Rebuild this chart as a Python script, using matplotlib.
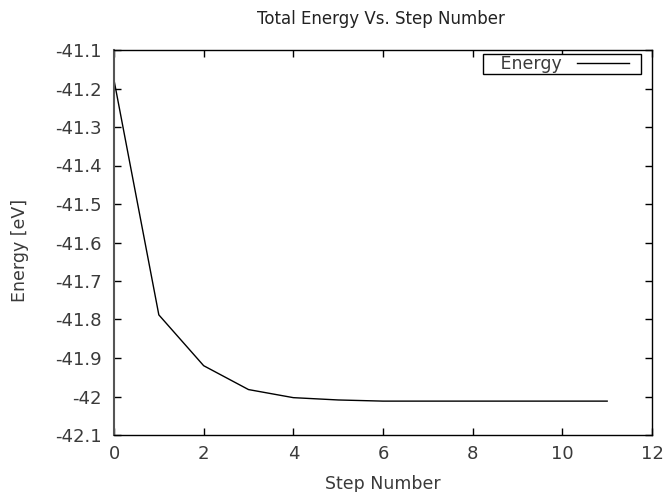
#!/usr/bin/env python3
"""Total energy vs. step number, gnuplot-style line chart."""

import matplotlib
matplotlib.use("Agg")
import matplotlib.pyplot as plt
from matplotlib.legend_handler import HandlerLine2D

# ---- Data ----
STEPS = [0, 1, 2, 3, 4, 5, 6, 7, 8, 9, 10, 11]
ENERGY = [-41.178, -41.788, -41.920, -41.982, -42.003, -42.009,
          -42.012, -42.012, -42.012, -42.012, -42.012, -42.012]

X_TICKS = [0, 2, 4, 6, 8, 10, 12]
Y_TICKS = [-42.1, -42.0, -41.9, -41.8, -41.7, -41.6, -41.5, -41.4, -41.3, -41.2, -41.1]
Y_TICK_LABELS = ["-42.1", "-42", "-41.9", "-41.8", "-41.7", "-41.6",
                 "-41.5", "-41.4", "-41.3", "-41.2", "-41.1"]

TEXT_COLOR = "#3a3a3a"


class ShortLineHandler(HandlerLine2D):
    """Legend sample line that leaves a gap before the right edge of the box."""

    def __init__(self, right_gap, **kw):
        super().__init__(**kw)
        self.right_gap = right_gap

    def create_artists(self, legend, orig_handle, xdescent, ydescent,
                       width, height, fontsize, trans):
        return super().create_artists(legend, orig_handle, xdescent, ydescent,
                                      width - self.right_gap * fontsize,
                                      height, fontsize, trans)


def main() -> None:
    plt.rcParams["font.family"] = "DejaVu Sans"
    fig = plt.figure(figsize=(6.63, 4.92), dpi=100)
    ax = fig.add_axes([114 / 663, 1 - 435 / 492, (652 - 114) / 663, (435 - 50) / 492])

    line, = ax.plot(STEPS, ENERGY, color="black", linewidth=1.0, label="   Energy")

    ax.set_xlim(0, 12)
    ax.set_ylim(-42.1, -41.1)
    ax.set_xticks(X_TICKS)
    ax.set_yticks(Y_TICKS)
    ax.set_yticklabels(Y_TICK_LABELS)
    ax.tick_params(direction="in", top=True, right=True, length=5, width=1,
                   labelsize=13, labelcolor=TEXT_COLOR)
    ax.tick_params(axis="y", pad=9)
    ax.tick_params(axis="x", pad=7)
    for side in ax.spines.values():
        side.set_linewidth(1.0)
        side.set_color("black")
    ax.spines["left"].set_color("#555555")
    ax.spines["left"].set_linewidth(1.5)

    ax.set_xlabel("Step Number", fontsize=12.5, color=TEXT_COLOR)
    ax.xaxis.set_label_coords(0.5, -0.103)
    ax.set_ylabel("Energy [eV]", fontsize=12.5, color=TEXT_COLOR)
    ax.yaxis.set_label_coords(-0.158, 0.48)
    fig.text(381 / 663, 1 - 19 / 492, "Total Energy Vs. Step Number",
             ha="center", va="center", fontsize=12, color="#222222")

    leg = ax.legend(loc="upper right", bbox_to_anchor=(0.9796, 0.9896),
                    markerfirst=False, fancybox=False, framealpha=1,
                    edgecolor="black", fontsize=12.5, handlelength=3.62,
                    handletextpad=0.92, borderpad=0.05, borderaxespad=0,
                    handler_map={line: ShortLineHandler(0.63)})
    leg.get_frame().set_linewidth(1.0)
    for t in leg.get_texts():
        t.set_color(TEXT_COLOR)

    fig.savefig("out.png", dpi=100)
    plt.close(fig)


if __name__ == "__main__":
    main()
